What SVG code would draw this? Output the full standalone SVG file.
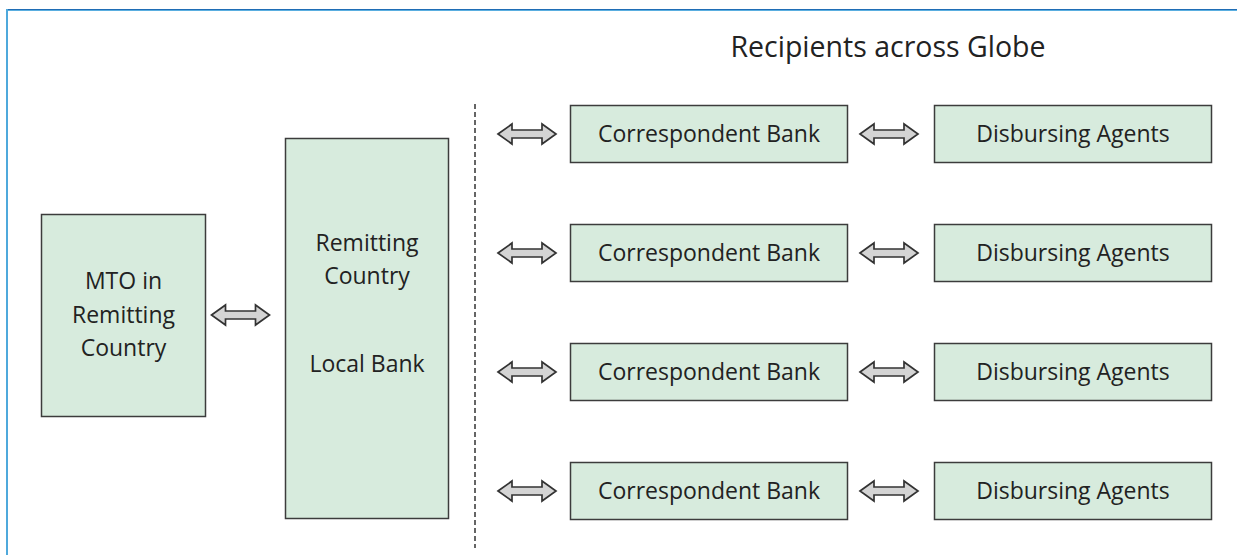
<svg xmlns="http://www.w3.org/2000/svg" xmlns:xlink="http://www.w3.org/1999/xlink" width="1237" height="555" viewBox="0 0 1237 555">
<style>
.box{fill:#d7ebdd;stroke:#3c3c3c;stroke-width:1.5}
.t{font-family:"Open Sans","Liberation Sans",sans-serif;font-size:23px;fill:#222;text-anchor:middle}
.arr{fill:#d4d4d4;stroke:#333;stroke-width:1.7;stroke-linejoin:miter}
</style>
<defs>
<path id="da" d="M-29,0 L-15,-10 L-15,-4 L15,-4 L15,-10 L29,0 L15,10 L15,4 L-15,4 L-15,10 Z"/>
</defs>
<rect width="1237" height="555" fill="#fff"/>
<g id="frame">
<line x1="6" y1="9.5" x2="1237" y2="9.5" stroke="#1f6db5" stroke-width="1"/>
<line x1="7" y1="10.5" x2="1237" y2="10.5" stroke="#5aaee0" stroke-width="1.2"/>
<line x1="7" y1="9" x2="7" y2="555" stroke="#4fa9dc" stroke-width="2"/>
</g>
<g id="title"><text class="t" x="888" y="57" style="font-size:28.5px">Recipients across Globe</text></g>
<g id="divider"><line x1="475" y1="104" x2="475" y2="548" stroke="#333" stroke-width="1.5" stroke-dasharray="5,3"/></g>
<g id="mto"><rect class="box" x="41.5" y="214.5" width="164" height="202"/>
<text class="t" x="123.5" y="289">MTO in</text><text class="t" x="123.5" y="322.5">Remitting</text><text class="t" x="123.5" y="356">Country</text></g>
<g id="localbank"><rect class="box" x="285.5" y="138.5" width="163" height="380"/>
<text class="t" x="367" y="251">Remitting</text><text class="t" x="367" y="284">Country</text><text class="t" x="367" y="372">Local Bank</text></g>
<g id="cb1"><rect class="box" x="570.5" y="105.5" width="277" height="57"/><text class="t" x="709" y="142">Correspondent Bank</text></g>
<g id="cb2"><rect class="box" x="570.5" y="224.5" width="277" height="57"/><text class="t" x="709" y="261">Correspondent Bank</text></g>
<g id="cb3"><rect class="box" x="570.5" y="343.5" width="277" height="57"/><text class="t" x="709" y="380">Correspondent Bank</text></g>
<g id="cb4"><rect class="box" x="570.5" y="462.5" width="277" height="57"/><text class="t" x="709" y="499">Correspondent Bank</text></g>
<g id="da1"><rect class="box" x="934.5" y="105.5" width="277" height="57"/><text class="t" x="1073" y="142">Disbursing Agents</text></g>
<g id="da2"><rect class="box" x="934.5" y="224.5" width="277" height="57"/><text class="t" x="1073" y="261">Disbursing Agents</text></g>
<g id="da3"><rect class="box" x="934.5" y="343.5" width="277" height="57"/><text class="t" x="1073" y="380">Disbursing Agents</text></g>
<g id="da4"><rect class="box" x="934.5" y="462.5" width="277" height="57"/><text class="t" x="1073" y="499">Disbursing Agents</text></g>
<g id="connectors" class="arr">
<use xlink:href="#da" transform="translate(240.5,315)"/>
<use xlink:href="#da" transform="translate(527,134)"/>
<use xlink:href="#da" transform="translate(527,253)"/>
<use xlink:href="#da" transform="translate(527,372)"/>
<use xlink:href="#da" transform="translate(527,491)"/>
<use xlink:href="#da" transform="translate(889,134)"/>
<use xlink:href="#da" transform="translate(889,253)"/>
<use xlink:href="#da" transform="translate(889,372)"/>
<use xlink:href="#da" transform="translate(889,491)"/>
</g>
</svg>
